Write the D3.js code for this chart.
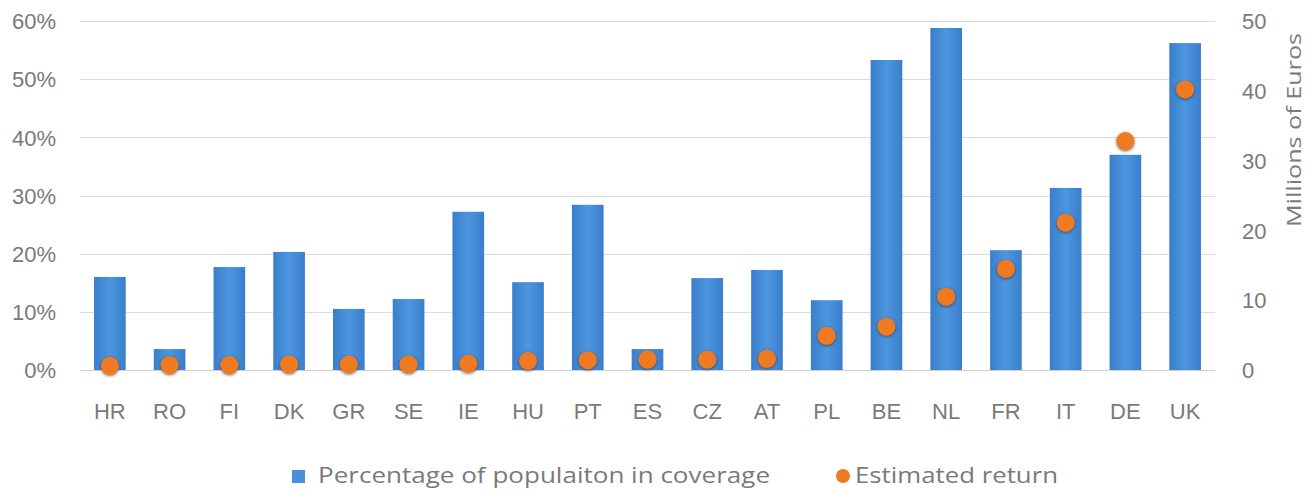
<!DOCTYPE html>
<html>
<head>
<meta charset="utf-8">
<script src="https://cdn.jsdelivr.net/npm/d3@7"></script>
<style>
  html, body { margin: 0; padding: 0; background: #ffffff; }
  svg { display: block; font-family: "Open Sans", "Noto Sans", sans-serif; }
</style>
</head>
<body>
<svg id="chart" width="1311" height="491"></svg>
<script>
// Country codes along the x axis
const countries = ["HR","RO","FI","DK","GR","SE","IE","HU","PT","ES","CZ","AT","PL","BE","NL","FR","IT","DE","UK"];
// Share of population in coverage (fraction, left axis)
const coverage = [0.160, 0.036, 0.177, 0.203, 0.105, 0.122, 0.272, 0.151, 0.284, 0.036, 0.158, 0.172, 0.120, 0.533, 0.588, 0.206, 0.313, 0.370, 0.562];
// Estimated return in millions of euros (right axis)
const estReturn = [0.6, 0.7, 0.7, 0.8, 0.8, 0.8, 0.9, 1.3, 1.4, 1.5, 1.5, 1.6, 4.9, 6.2, 10.5, 14.5, 21.1, 32.8, 40.2];
// Tick values
const leftTicks = [0, 0.1, 0.2, 0.3, 0.4, 0.5, 0.6];
const rightTicks = [0, 10, 20, 30, 40, 50];
const seriesNames = ["Percentage of populaiton in coverage", "Estimated return"];

const svg = d3.select("#chart");
const textColor = "#7a7a7a";
const plot = { left: 80, right: 1215, top: 21, bottom: 370 };

const x = d3.scaleBand().domain(countries).range([plot.left, plot.right]).paddingInner(0.47).paddingOuter(0.235);
const yL = d3.scaleLinear().domain([0, 0.6]).range([plot.bottom, plot.top]);
const yR = d3.scaleLinear().domain([0, 50]).range([plot.bottom, plot.top]);

const defs = svg.append("defs");
const grad = defs.append("linearGradient").attr("id", "barFill").attr("x1", "0").attr("x2", "1").attr("y1", "0").attr("y2", "0");
grad.append("stop").attr("offset", "0%").attr("stop-color", "#3a7ecb");
grad.append("stop").attr("offset", "50%").attr("stop-color", "#4d96df");
grad.append("stop").attr("offset", "100%").attr("stop-color", "#3a7ecb");

const shadow = defs.append("filter").attr("id", "dotShadow").attr("x", "-60%").attr("y", "-60%").attr("width", "220%").attr("height", "220%");
shadow.append("feDropShadow").attr("dx", 0).attr("dy", 1).attr("stdDeviation", 1.6).attr("flood-color", "#3a2a20").attr("flood-opacity", 0.75);

// Horizontal gridlines
svg.append("g")
  .selectAll("line")
  .data(leftTicks)
  .join("line")
  .attr("x1", plot.left).attr("x2", plot.right)
  .attr("y1", d => Math.round(yL(d)) + 0.5).attr("y2", d => Math.round(yL(d)) + 0.5)
  .attr("stroke", d => d === 0 ? "#cfcfcf" : "#dcdcdc")
  .attr("stroke-width", 1.2);

// Left axis (percentages)
const leftAxis = svg.append("g")
  .attr("transform", `translate(${plot.left - 24},0)`)
  .call(d3.axisLeft(yL).tickValues(leftTicks).tickFormat(d3.format(".0%")).tickSize(0).tickPadding(0));
leftAxis.select(".domain").remove();
leftAxis.selectAll("text").attr("fill", textColor).style("font-size", "22px").attr("dy", "0.35em");

// Right axis (millions of euros)
const rightAxis = svg.append("g")
  .attr("transform", `translate(${plot.right + 27},0)`)
  .call(d3.axisRight(yR).tickValues(rightTicks).tickSize(0).tickPadding(0));
rightAxis.select(".domain").remove();
rightAxis.selectAll("text").attr("fill", textColor).style("font-size", "22px").attr("dy", "0.35em");

svg.append("text")
  .attr("transform", "translate(1294,130) rotate(-90)")
  .attr("text-anchor", "middle")
  .attr("dy", "0.35em")
  .attr("fill", textColor)
  .style("font-size", "20px")
  .attr("textLength", 194)
  .attr("lengthAdjust", "spacingAndGlyphs")
  .text("Millions of Euros");

// Bottom axis (country codes)
const bottomAxis = svg.append("g")
  .attr("transform", `translate(0,${plot.bottom})`)
  .call(d3.axisBottom(x).tickSize(0).tickPadding(33));
bottomAxis.select(".domain").remove();
bottomAxis.selectAll("text").attr("fill", textColor).style("font-size", "22px");

// Coverage bars
svg.append("g")
  .selectAll("rect")
  .data(countries.map((c, i) => ({ c, v: coverage[i] })))
  .join("rect")
  .attr("x", d => x(d.c))
  .attr("width", x.bandwidth())
  .attr("y", d => yL(d.v))
  .attr("height", d => yL(0) - yL(d.v))
  .attr("fill", "url(#barFill)");

// Estimated return markers
svg.append("g")
  .selectAll("circle")
  .data(countries.map((c, i) => ({ c, v: estReturn[i] })))
  .join("circle")
  .attr("cx", d => x(d.c) + x.bandwidth() / 2)
  .attr("cy", d => yR(d.v))
  .attr("r", 9)
  .attr("fill", "#f07a22")
  .attr("filter", "url(#dotShadow)");

// Legend
const legend = svg.append("g").attr("transform", "translate(0,476)");
legend.append("rect").attr("x", 292).attr("y", -6).attr("width", 13).attr("height", 13).attr("fill", "#4a8fd8");
legend.append("text").attr("x", 318).attr("dy", "0.35em").attr("fill", textColor).style("font-size", "21px")
  .attr("textLength", 452).attr("lengthAdjust", "spacingAndGlyphs").text(seriesNames[0]);
legend.append("circle").attr("cx", 843).attr("cy", 0).attr("r", 7).attr("fill", "#f07a22");
legend.append("text").attr("x", 855).attr("dy", "0.35em").attr("fill", textColor).style("font-size", "21px")
  .attr("textLength", 203).attr("lengthAdjust", "spacingAndGlyphs").text(seriesNames[1]);
</script>
</body>
</html>
